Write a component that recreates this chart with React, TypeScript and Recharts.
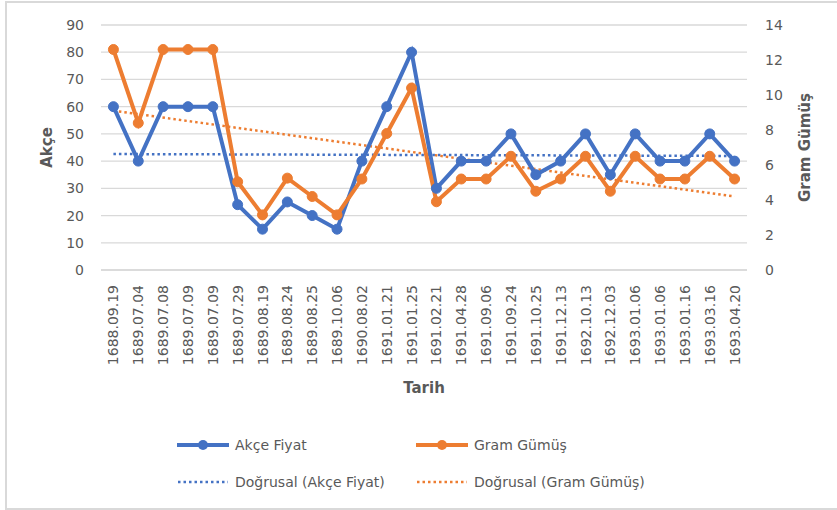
import React from 'react';
import {
  CartesianGrid, ComposedChart, Label, Line, ReferenceLine, XAxis, YAxis,
} from 'recharts';

// tarih / akçe fiyatı / gram gümüş
const tarihler = [
  '1688.09.19', '1689.07.04', '1689.07.08', '1689.07.09', '1689.07.09',
  '1689.07.29', '1689.08.19', '1689.08.24', '1689.08.25', '1689.10.06',
  '1690.08.02', '1691.01.21', '1691.01.25', '1691.02.21', '1691.04.28',
  '1691.09.06', '1691.09.24', '1691.10.25', '1691.12.13', '1692.10.13',
  '1692.12.03', '1693.01.06', '1693.01.06', '1693.01.16', '1693.03.16',
  '1693.04.20',
];
const akceFiyat = [60, 40, 60, 60, 60, 24, 15, 25, 20, 15, 40, 60, 80, 30, 40, 40, 50, 35, 40, 50, 35, 50, 40, 40, 50, 40];
const gramGumus = [12.6, 8.4, 12.6, 12.6, 12.6, 5.04, 3.15, 5.25, 4.2, 3.15, 5.2, 7.8, 10.4, 3.9, 5.2, 5.2, 6.5, 4.5, 5.2, 6.5, 4.5, 6.5, 5.2, 5.2, 6.5, 5.2];

// Doğrusal eğilim çizgilerinin uç değerleri (ilk ve son tarih)
const akceTrend = [42.6, 41.9];
const gramTrend = [9.1, 4.2];

const leftTicks = [0, 10, 20, 30, 40, 50, 60, 70, 80, 90];
const rightTicks = [0, 2, 4, 6, 8, 10, 12, 14];

const BLUE = '#4472C4';
const ORANGE = '#ED7D31';
const GRID = '#d9d9d9';
const INK = '#595959';
const FONT = '"DejaVu Sans", sans-serif';

const data = tarihler.map((tarih, i) => ({ tarih, i, akce: akceFiyat[i], gram: gramGumus[i] }));
const first = data[0].i;
const last = data[data.length - 1].i;

function XTick({ x, y, payload }: any) {
  return (
    <text x={x} y={y} transform={`rotate(-90, ${x}, ${y})`} textAnchor="end" dominantBaseline="central"
      fill={INK} fontSize={14} fontFamily={FONT}>{tarihler[payload.value]}</text>
  );
}

function axisTitle(value: string, dx: (vb: any) => number) {
  return (props: any) => {
    const vb = props.viewBox || {};
    const cx = dx(vb);
    const cy = vb.y + vb.height / 2;
    return (
      <text x={cx} y={cy} transform={`rotate(-90, ${cx}, ${cy})`} textAnchor="middle" dominantBaseline="central"
        fill={INK} fontSize={15} fontWeight="bold" fontFamily={FONT}>{value}</text>
    );
  };
}

function tarihTitle(props: any) {
  const vb = props.viewBox || {};
  return (
    <text x={vb.x + vb.width / 2} y={388} textAnchor="middle" dominantBaseline="central"
      fill={INK} fontSize={15} fontWeight="bold" fontFamily={FONT}>Tarih</text>
  );
}

function LegendItem({ color, dotted, text }: { color: string; dotted?: boolean; text: string }) {
  return (
    <div style={{ display: 'flex', alignItems: 'center', width: 239 }}>
      <svg width={56} height={14} style={{ marginRight: 2 }}>
        {dotted ? (
          <line x1={1} y1={7} x2={51} y2={7} stroke={color} strokeWidth={2.5} strokeDasharray="2.5 3" />
        ) : (
          <>
            <line x1={0} y1={7} x2={52} y2={7} stroke={color} strokeWidth={4} />
            <circle cx={26} cy={7} r={5} fill={color} />
          </>
        )}
      </svg>
      <span style={{ color: INK, fontSize: 14, fontFamily: FONT, whiteSpace: 'nowrap' }}>{text}</span>
    </div>
  );
}

export default function App() {
  return (
    <div style={{ position: 'absolute', left: 0, top: 0, width: 837, height: 510, background: '#fff', overflow: 'hidden' }}>
      <div style={{ position: 'absolute', left: 5, top: 1, width: 900, height: 505, border: `2px solid ${GRID}` }} />
      <div style={{ position: 'absolute', left: 0, top: 0 }}>
        <ComposedChart width={837} height={510} data={data} margin={{ top: 25, right: 30, left: 41, bottom: 120 }}>
          <CartesianGrid yAxisId="left" vertical={false} stroke={GRID} strokeWidth={1.3} />
          <XAxis dataKey="i" type="category" scale="band" interval={0} height={120} tick={<XTick />} tickLine={false}
            tickSize={0} tickMargin={15} axisLine={{ stroke: GRID, strokeWidth: 1.3 }}>
            <Label content={tarihTitle} />
          </XAxis>
          <YAxis yAxisId="left" orientation="left" width={60} domain={[0, 90]} ticks={leftTicks} interval={0}
            axisLine={false} tickLine={false} tickSize={0} tickMargin={17}
            tick={{ fill: INK, fontSize: 14, fontFamily: FONT }}>
            <Label content={axisTitle('Akçe', (vb) => vb.x + 6)} />
          </YAxis>
          <YAxis yAxisId="right" orientation="right" width={60} domain={[0, 14]} ticks={rightTicks} interval={0}
            axisLine={false} tickLine={false} tickSize={0} tickMargin={18}
            tick={{ fill: INK, fontSize: 14, fontFamily: FONT }}>
            <Label content={axisTitle('Gram Gümüş', (vb) => vb.x + 58)} />
          </YAxis>
          <ReferenceLine yAxisId="left" segment={[{ x: first, y: akceTrend[0] }, { x: last, y: akceTrend[1] }]}
            stroke={BLUE} strokeWidth={2.5} strokeDasharray="2.5 3" />
          <ReferenceLine yAxisId="right" segment={[{ x: first, y: gramTrend[0] }, { x: last, y: gramTrend[1] }]}
            stroke={ORANGE} strokeWidth={2.5} strokeDasharray="2.5 3" />
          <Line yAxisId="left" dataKey="akce" type="linear" stroke={BLUE} strokeWidth={4}
            dot={{ r: 5, fill: BLUE, stroke: BLUE, strokeWidth: 1 }} isAnimationActive={false} />
          <Line yAxisId="right" dataKey="gram" type="linear" stroke={ORANGE} strokeWidth={4}
            dot={{ r: 5, fill: ORANGE, stroke: ORANGE, strokeWidth: 1 }} isAnimationActive={false} />
        </ComposedChart>
      </div>
      <div style={{ position: 'absolute', left: 177, top: 437, display: 'flex' }}>
        <LegendItem color={BLUE} text="Akçe Fiyat" />
        <LegendItem color={ORANGE} text="Gram Gümüş" />
      </div>
      <div style={{ position: 'absolute', left: 177, top: 474, display: 'flex' }}>
        <LegendItem color={BLUE} dotted text="Doğrusal (Akçe Fiyat)" />
        <LegendItem color={ORANGE} dotted text="Doğrusal (Gram Gümüş)" />
      </div>
    </div>
  );
}
